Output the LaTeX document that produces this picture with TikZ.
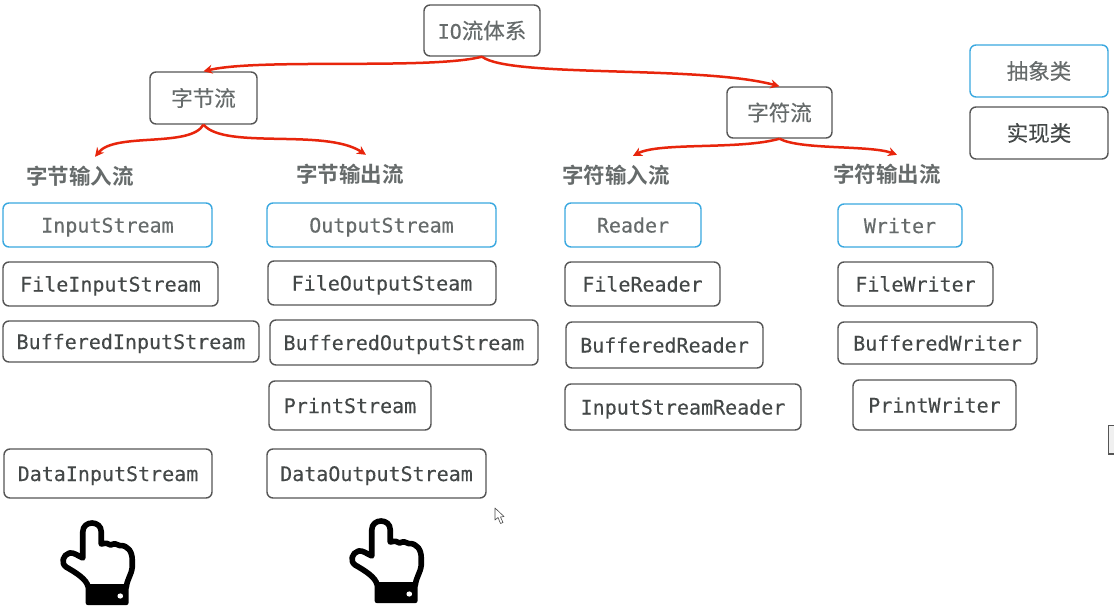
\documentclass[tikz,border=0pt]{standalone}
\usepackage{fontspec}
\usepackage{xcolor}
\usetikzlibrary{arrows.meta}
\setmainfont{DejaVu Sans Mono}[FakeBold=0.2]
\newfontfamily\cjk{Noto Sans CJK SC}[FakeBold=0.2]
\newfontfamily\cjkhead{Noto Sans CJK SC Bold}
\definecolor{boxgray}{HTML}{555555}
\definecolor{boxblue}{HTML}{3AA8E0}
\definecolor{flowred}{HTML}{E8250C}
\definecolor{textgray}{HTML}{666B6B}
\definecolor{textdark}{HTML}{444848}
\tikzset{
    basebox/.style={draw=boxgray, line width=1.4pt, rounded corners=6pt, inner sep=0pt},
    classbox/.style={basebox, text=textdark, text height=15pt, text depth=0pt,
          font=\fontsize{20}{24}\selectfont},
    abstractbox/.style={classbox, draw=boxblue, text=textgray},
    rootbox/.style={basebox, text=textgray, font=\fontsize{21.5}{24}\selectfont\cjk},
    headlabel/.style={inner sep=0pt, minimum height=38pt, text=textgray,
          font=\fontsize{21.5}{24}\selectfont\cjkhead},
    flowarrow/.style={draw=flowred, line width=2.5pt, -{Stealth[length=9pt, width=9pt]}},
    handicon/.pic={
        \draw[black, line width=5.6pt, line join=round, fill=white]
            (-22.7,-29) -- (-22.7,-55) .. controls (-22.7,-67) and (-5.7,-67) .. (-5.7,-55)
            -- (-5.7,-43) .. controls (-2,-44) and (1,-44) .. (3,-42)
            .. controls (6,-44) and (9,-43) .. (11,-41.5)
            .. controls (19,-42) and (22.7,-35) .. (22.7,-27) -- (22.7,-20)
            .. controls (22,-12) and (18,-8) .. (17.3,0) -- (-17.7,0)
            .. controls (-19,-8) and (-30,-15) .. (-38,-20)
            .. controls (-43,-24) and (-41,-32) .. (-35,-34)
            .. controls (-31,-35) and (-27,-31) .. (-22.7,-29) -- cycle;
        \fill[black, rounded corners=2pt] (-20,-1) rectangle (19.3,18);
        \fill[white] (11.7,9) circle (2.6);
    }
}
\begin{document}
\begin{tikzpicture}[x=1pt, y=-1pt]
    \useasboundingbox[fill=white] (0,0) rectangle (1114,615);
    % top of the tree
    \node[rootbox, minimum width=116pt, minimum height=51pt] (iosystem) at (482,30.5) {{\fontspec{DejaVu Sans Mono}[FakeBold=0.2]\fontsize{20}{24}\selectfont IO}流体系};
    \node[rootbox, minimum width=107pt, minimum height=52pt] (bytestream) at (203.5,98) {字节流};
    \node[rootbox, minimum width=105pt, minimum height=51pt] (charstream) at (779.5,112.5) {字符流};
    % legend
    \node[rootbox, draw=boxblue, minimum width=138pt, minimum height=52pt] (legendabstract) at (1039,71) {抽象类};
    \node[rootbox, text=textdark, minimum width=138pt, minimum height=52pt] (legendconcrete) at (1039,133) {实现类};
    % group titles
    \node[headlabel] (byteinput) at (80,176) {字节输入流};
    \node[headlabel] (byteoutput) at (350,174) {字节输出流};
    \node[headlabel] (charinput) at (616,175) {字符输入流};
    \node[headlabel] (charoutput) at (887,174) {字符输出流};
    % byte input
    \node[abstractbox, minimum width=209pt, minimum height=44pt] (inputstream) at (107.5,225) {InputStream};
    \node[classbox, minimum width=215pt, minimum height=44pt] (fileinput) at (110.5,284) {FileInputStream};
    \node[classbox, minimum width=256pt, minimum height=41pt] (bufferedinput) at (131,341.5) {BufferedInputStream};
    \node[classbox, minimum width=208pt, minimum height=49pt] (datainput) at (108,473.5) {DataInputStream};
    % byte output
    \node[abstractbox, minimum width=229pt, minimum height=44pt] (outputstream) at (381.5,225) {OutputStream};
    \node[classbox, minimum width=228pt, minimum height=44pt] (fileoutput) at (382,283) {FileOutputSteam};
    \node[classbox, minimum width=268pt, minimum height=45pt] (bufferedoutput) at (404,342.5) {BufferedOutputStream};
    \node[classbox, minimum width=162pt, minimum height=49pt] (printstream) at (350,405.5) {PrintStream};
    \node[classbox, minimum width=219pt, minimum height=49pt] (dataoutput) at (376.5,473.5) {DataOutputStream};
    % char input
    \node[abstractbox, minimum width=136pt, minimum height=44pt] (reader) at (633,225) {Reader};
    \node[classbox, minimum width=155pt, minimum height=44pt] (filereader) at (642.5,284) {FileReader};
    \node[classbox, minimum width=197pt, minimum height=46pt] (bufferedreader) at (664.5,345) {BufferedReader};
    \node[classbox, minimum width=236pt, minimum height=46pt] (inputreader) at (683,407) {InputStreamReader};
    % char output
    \node[abstractbox, minimum width=124pt, minimum height=43pt] (writer) at (900,225.5) {Writer};
    \node[classbox, minimum width=155pt, minimum height=44pt] (filewriter) at (915.5,284) {FileWriter};
    \node[classbox, minimum width=199pt, minimum height=42pt] (bufferedwriter) at (937.5,343) {BufferedWriter};
    \node[classbox, minimum width=163pt, minimum height=50pt] (printwriter) at (934.5,405) {PrintWriter};
    % red arrows
    \draw[flowarrow] (iosystem.south) .. controls (430,70) and (260,58) .. (bytestream.north);
    \draw[flowarrow] (iosystem.south) .. controls (510,78) and (700,65) .. (charstream.north);
    \draw[flowarrow] (bytestream.south) .. controls (190,148) and (115,132) .. ([xshift=15pt]byteinput.north);
    \draw[flowarrow] (bytestream.south) .. controls (225,150) and (325,128) .. ([xshift=16pt]byteoutput.north);
    \draw[flowarrow] (charstream.south) .. controls (740,150) and (660,142) .. ([xshift=17pt]charinput.north);
    \draw[flowarrow] (charstream.south) .. controls (800,150) and (870,145) .. ([xshift=10pt]charoutput.north);
    % hands
    \pic[xscale=1.09] at (107.5,587) {handicon};
    \pic[xscale=1.09] at (396.5,585) {handicon};
    % mouse pointer and the cut off box at the edge
    \draw[black!70, fill=white, line width=.6pt, line join=round] (495,508) -- (495,520) -- (498,517.5) -- (500.5,523.5) -- (503,522.5) -- (500.5,517) -- (504,516.5) -- cycle;
    \draw[boxgray, line width=1.2pt, fill=black!6] (1115,425.5) -- (1108.5,425.5) -- (1108.5,454) -- (1115,454);
\end{tikzpicture}
\end{document}
